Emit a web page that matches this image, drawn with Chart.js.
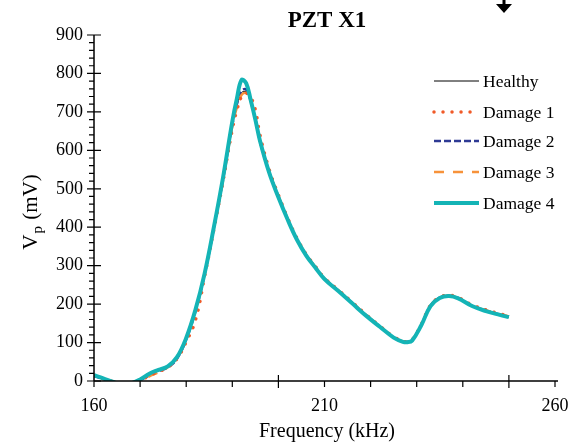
<!DOCTYPE html>
<html>
<head>
<meta charset="utf-8">
<script src="https://cdn.jsdelivr.net/npm/chart.js@4"></script>
<style>
  body { margin: 0; background: #fff; }
  canvas { display: block; }
</style>
</head>
<body>
<canvas id="chart" width="585" height="446"></canvas>
<script>
// frequency (kHz) and peak voltage (mV)
const freq = [160,162,164,166,168,170,172,174,176,178,180,182,184,186,188,190,191,192,193,194,195,196,198,200,202,204,206,208,210,213,216,219,222,225,227,228,229,231,233,235,237,239,242,245,248,250];
const healthy = [12,5,-3,-9,-7,3,16,26,36,59,109,181,278,398,525,668,718,750,752,725,678,622,543,480,421,369,328,296,266,235,203,171,142,114,103,102,106,146,196,217,222,216,196,183,173,167];
const damage1 = [14,6,-1,-7,-6,1,14,24,36,58,102,158,272,394,520,655,705,740,749,738,705,640,550,484,424,372,330,298,268,237,205,173,143,115,104,102,107,147,197,218,223,217,198,185,175,169];
const damage2 = [13,5,-3,-9,-7,2,15,25,35,58,108,181,277,397,525,666,720,755,758,728,682,624,544,480,421,369,328,296,266,235,203,171,142,114,103,102,106,146,196,217,222,216,196,183,173,167];
const damage3 = [16,7,-1,-7,-6,0,12,23,36,60,111,183,278,398,522,662,712,744,749,725,680,623,544,481,422,370,329,297,267,236,204,172,142,114,103,102,106,146,196,217,222,216,196,184,174,168];
const damage4 = [15,7,-2,-8,-6,4,19,29,38,62,112,185,280,400,530,675,735,783,775,730,680,625,542,478,420,368,327,295,265,234,202,170,141,113,102,101,105,145,195,216,221,215,195,182,172,166];

const xMajor = [160, 210, 260];
const yMajor = [0,100,200,300,400,500,600,700,800,900];

const serif = '"Liberation Serif", "Times New Roman", serif';

function pts(vals) {
  return freq.map((f, i) => ({ x: f, y: vals[i] }));
}

const series = [
  { label: 'Healthy',  data: healthy, color: '#000000', width: 1,   dash: [],         cap: 'butt',  order: 4 },
  { label: 'Damage 1', data: damage1, color: '#f05a28', width: 3.5, dash: [0.01, 9],  cap: 'round', order: 1 },
  { label: 'Damage 2', data: damage2, color: '#2e3a94', width: 2.5, dash: [7, 3],     cap: 'butt',  order: 3 },
  { label: 'Damage 3', data: damage3, color: '#f7923a', width: 2.5, dash: [10, 9],    cap: 'butt',  order: 2 },
  { label: 'Damage 4', data: damage4, color: '#14b4b6', width: 4,   dash: [],         cap: 'butt',  order: 0 }
];

// axes, ticks, titles, legend and the little arrow
const decor = {
  id: 'decor',
  afterDraw(chart) {
    const ctx = chart.ctx;
    const xs = chart.scales.x, ys = chart.scales.y;
    const area = chart.chartArea;
    const ax = area.left, ay = area.bottom;
    ctx.save();
    ctx.strokeStyle = '#000';
    ctx.fillStyle = '#000';
    ctx.lineWidth = 1.5;
    ctx.beginPath();
    ctx.moveTo(ax, area.top); ctx.lineTo(ax, ay);
    ctx.moveTo(ax, ay); ctx.lineTo(area.right + 3, ay);
    ctx.stroke();

    ctx.lineWidth = 1.2;
    ctx.beginPath();
    for (let v = 160; v <= 260; v += 10) {
      const px = xs.getPixelForValue(v);
      if (v % 50 === 0) { ctx.moveTo(px, ay - 6); ctx.lineTo(px, ay + 7); }
      else { ctx.moveTo(px, ay); ctx.lineTo(px, ay + 6); }
    }
    for (let v = 0; v <= 900; v += 20) {
      const py = ys.getPixelForValue(v);
      if (v % 100 === 0) { ctx.moveTo(ax - 7, py); ctx.lineTo(ax + 7, py); }
      else { ctx.moveTo(ax - 5, py); ctx.lineTo(ax, py); }
    }
    ctx.stroke();

    // title
    ctx.font = 'bold 23px ' + serif;
    ctx.textAlign = 'center';
    ctx.textBaseline = 'middle';
    ctx.fillText('PZT X1', 327, 21);

    // x title
    ctx.font = '20px ' + serif;
    ctx.fillText('Frequency (kHz)', 327, 432);

    // y title with subscript
    ctx.save();
    ctx.translate(31, 212);
    ctx.rotate(-Math.PI / 2);
    ctx.textAlign = 'left';
    ctx.textBaseline = 'middle';
    ctx.font = '21px ' + serif;
    const wV = ctx.measureText('V').width;
    ctx.font = '15px ' + serif;
    const wP = ctx.measureText('p').width;
    ctx.font = '21px ' + serif;
    const wR = ctx.measureText(' (mV)').width;
    let x0 = -(wV + wP + 2 + wR) / 2;
    ctx.fillText('V', x0, 0);
    ctx.font = '15px ' + serif;
    ctx.fillText('p', x0 + wV + 1, 7);
    ctx.font = '21px ' + serif;
    ctx.fillText(' (mV)', x0 + wV + wP + 2, 0);
    ctx.restore();

    // legend
    const ly = [81, 112, 141, 172, 203];
    ctx.font = '17.5px ' + serif;
    ctx.textAlign = 'left';
    ctx.textBaseline = 'middle';
    chart.data.datasets.forEach((ds, i) => {
      ctx.save();
      ctx.strokeStyle = ds.borderColor;
      ctx.lineWidth = ds.borderWidth;
      ctx.lineCap = ds.borderCapStyle;
      ctx.setLineDash(ds.borderDash);
      ctx.beginPath();
      ctx.moveTo(434, ly[i]);
      ctx.lineTo(479, ly[i]);
      ctx.stroke();
      ctx.restore();
      ctx.fillText(ds.label, 483, ly[i] + 1);
    });

    // downward arrow at top right
    ctx.beginPath();
    ctx.rect(502.5, 0, 3, 5);
    ctx.moveTo(496, 4); ctx.lineTo(512, 4); ctx.lineTo(504, 13); ctx.closePath();
    ctx.fill();
    ctx.restore();
  }
};

new Chart(document.getElementById('chart').getContext('2d'), {
  type: 'line',
  data: {
    datasets: series.map(s => ({
      label: s.label,
      data: pts(s.data),
      borderColor: s.color,
      borderWidth: s.width,
      borderDash: s.dash,
      borderCapStyle: s.cap,
      pointRadius: 0,
      fill: false,
      tension: 0.4,
      order: s.order
    }))
  },
  options: {
    responsive: false,
    devicePixelRatio: 1,
    animation: false,
    layout: { padding: { top: 35, right: 30, left: 0, bottom: 0 } },
    plugins: { legend: { display: false }, title: { display: false }, tooltip: { enabled: false } },
    scales: {
      x: {
        type: 'linear', min: 160, max: 260,
        afterFit: s => { s.height = 65; },
        afterBuildTicks: s => { s.ticks = xMajor.map(v => ({ value: v })); },
        grid: { display: false, drawTicks: false },
        border: { display: false },
        ticks: { color: '#000', font: { family: serif, size: 18 }, padding: 14, maxRotation: 0 }
      },
      y: {
        min: 0, max: 900,
        afterFit: s => { s.width = 94; },
        afterBuildTicks: s => { s.ticks = yMajor.map(v => ({ value: v })); },
        grid: { display: false, drawTicks: false },
        border: { display: false },
        ticks: { color: '#000', font: { family: serif, size: 18 }, padding: 11 }
      }
    }
  },
  plugins: [decor]
});
</script>
</body>
</html>
